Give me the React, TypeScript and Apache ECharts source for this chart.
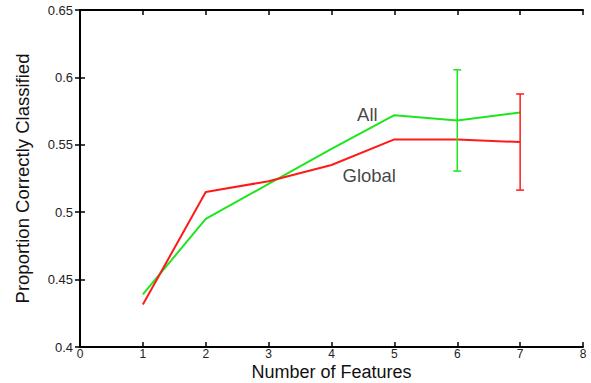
import React, { useEffect, useRef } from "react";
import * as echarts from "echarts";

const features = [1, 2, 3, 4, 5, 6, 7];
const allValues = [0.439, 0.495, 0.521, 0.547, 0.572, 0.568, 0.574];
const globalValues = [0.4315, 0.515, 0.523, 0.535, 0.554, 0.554, 0.552];
// error bars: [x, low, high]
const allError = [[6, 0.5305, 0.6056]];
const globalError = [[7, 0.5164, 0.5877]];
const labels = [
  { name: "All", x: 4.57, y: 0.5725 },
  { name: "Global", x: 4.6, y: 0.527 },
];

const GREEN = "#1ee61e";
const RED = "#ff1a1a";

function errorSeries(data: number[][], color: string) {
  return {
    type: "custom",
    data,
    z: 5,
    renderItem: (params: any, api: any) => {
      const x = api.value(0);
      const lo = api.coord([x, api.value(1)]);
      const hi = api.coord([x, api.value(2)]);
      const w = 4;
      const style = { stroke: color, lineWidth: 1.5 };
      return {
        type: "group",
        children: [
          { type: "line", shape: { x1: lo[0], y1: lo[1], x2: hi[0], y2: hi[1] }, style },
          { type: "line", shape: { x1: hi[0] - w, y1: hi[1], x2: hi[0] + w, y2: hi[1] }, style },
          { type: "line", shape: { x1: lo[0] - w, y1: lo[1], x2: lo[0] + w, y2: lo[1] }, style },
        ],
      };
    },
  };
}

export default function App() {
  const ref = useRef<HTMLDivElement>(null);
  useEffect(() => {
    const chart = echarts.init(ref.current!, null, { renderer: "svg" });
    const font = "Liberation Sans, Arial, sans-serif";
    const axisLine = { show: true, lineStyle: { color: "#000", width: 2 } };
    const axisTick = { show: true, inside: true, length: 5, lineStyle: { color: "#000", width: 1.5 } };
    chart.setOption({
      animation: false,
      backgroundColor: "#fff",
      grid: { left: 80, right: 8, top: 10, bottom: 36, containLabel: false, outerBoundsMode: "none" },
      xAxis: [
        {
          type: "value",
          min: 0,
          max: 8,
          interval: 1,
          axisLine,
          axisTick,
          splitLine: { show: false },
          axisLabel: { color: "#222", fontSize: 12, lineHeight: 10, fontFamily: font, margin: 2 },
          name: "Number of Features",
          nameLocation: "middle",
          nameGap: 17,
          nameMoveOverlap: false,
          nameTextStyle: { color: "#111", fontSize: 18, lineHeight: 16, fontFamily: font },
        },
        {
          type: "value",
          position: "top",
          min: 0,
          max: 8,
          interval: 1,
          axisLine,
          axisTick,
          splitLine: { show: false },
          axisLabel: { show: false },
        },
      ],
      yAxis: [
        {
          type: "value",
          min: 0.4,
          max: 0.65,
          interval: 0.05,
          axisLine,
          axisTick,
          splitLine: { show: false },
          axisLabel: { color: "#222", fontSize: 13, fontFamily: font, margin: 7 },
          name: "Proportion Correctly Classified",
          nameLocation: "middle",
          nameGap: 48,
          nameMoveOverlap: false,
          nameTextStyle: { color: "#111", fontSize: 18.5, fontFamily: font },
        },
        {
          type: "value",
          position: "right",
          min: 0.4,
          max: 0.65,
          interval: 0.05,
          axisLine,
          axisTick,
          splitLine: { show: false },
          axisLabel: { show: false },
        },
      ],
      series: [
        {
          type: "line",
          data: features.map((f, i) => [f, allValues[i]]),
          showSymbol: false,
          lineStyle: { color: GREEN, width: 2 },
          itemStyle: { color: GREEN },
        },
        {
          type: "line",
          data: features.map((f, i) => [f, globalValues[i]]),
          showSymbol: false,
          lineStyle: { color: RED, width: 2 },
          itemStyle: { color: RED },
        },
        errorSeries(allError, GREEN),
        errorSeries(globalError, RED),
        {
          type: "scatter",
          symbolSize: 0,
          data: labels.map((l) => ({ name: l.name, value: [l.x, l.y] })),
          label: {
            show: true,
            position: "inside",
            formatter: (p: any) => p.name,
            color: "#111",
            fontSize: 18.5,
            fontFamily: font,
          },
        },
      ],
    });
    return () => chart.dispose();
  }, []);
  return (
    <div
      ref={ref}
      style={{ position: "absolute", left: 0, top: 0, width: 591, height: 383 }}
    />
  );
}
